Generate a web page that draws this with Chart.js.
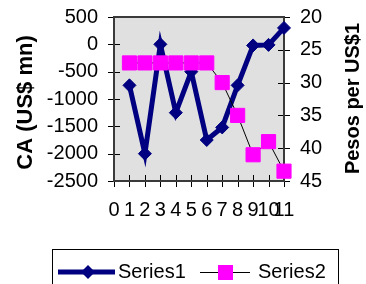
<!DOCTYPE html>
<html><head><meta charset="utf-8">
<script src="https://cdn.jsdelivr.net/npm/chart.js@4/dist/chart.umd.min.js"></script>
<style>html,body{margin:0;padding:0;background:#fff;overflow:hidden}canvas{display:block}</style>
</head><body>
<canvas id="c" width="366" height="284"></canvas>
<script>
const categories = [1, 2, 3, 4, 5, 6, 7, 8, 9, 10, 11];
const series1 = [-750, -2000, 0, -1250, -500, -1750, -1520, -750, -20, -10, 300];
const series2 = [27, 27, 27, 27, 27, 27, 30, 35, 41, 39, 43.5];
const xTickLabels = ['0','1','2','3','4','5','6','7','8','9','10','11'];
const leftTicks = [-2500, -2000, -1500, -1000, -500, 0, 500];
const rightTicks = [20, 25, 30, 35, 40, 45];
const seriesNames = ['Series1', 'Series2'];
const leftTitle = 'CA (US$ mn)';
const rightTitle = 'Pesos per US$1';

const FONT = '"Liberation Sans", Arial, Helvetica, sans-serif';
const NAVY = '#000080';
const MAG = '#FF00FF';

const framePlugin = {
  id: 'frame',
  beforeDatasetsDraw(chart) {
    const {ctx, chartArea: a} = chart;
    ctx.save();
    ctx.fillStyle = '#E0E0E0';
    ctx.fillRect(a.left, a.top, a.right - a.left, a.bottom - a.top);
    ctx.strokeStyle = '#000';
    ctx.lineWidth = 1;
    ctx.beginPath();
    const xs = chart.scales.x;
    xTickLabels.forEach((l, i) => {
      const px = Math.round(xs.getPixelForValue(i)) + 0.5;
      ctx.moveTo(px, a.bottom - 6); ctx.lineTo(px, a.bottom + 6);
    });
    leftTicks.forEach(v => {
      const py = Math.round(chart.scales.y.getPixelForValue(v)) + 0.5;
      ctx.moveTo(a.left - 6, py); ctx.lineTo(a.left + 6, py);
    });
    rightTicks.forEach(v => {
      const py = Math.round(chart.scales.y2.getPixelForValue(v)) + 0.5;
      ctx.moveTo(a.right - 6, py); ctx.lineTo(a.right + 6, py);
    });
    ctx.stroke();
    ctx.strokeStyle = '#3a3a3a';
    ctx.lineWidth = 2;
    ctx.strokeRect(a.left, a.top, a.right - a.left, a.bottom - a.top);
    ctx.restore();
  },
  afterDraw(chart) {
    const ctx = chart.ctx;
    ctx.save();
    ctx.fillStyle = '#000';
    ctx.font = 'bold 22px ' + FONT;
    ctx.textAlign = 'center';
    ctx.textBaseline = 'alphabetic';
    ctx.translate(31.5, 102.5);
    ctx.rotate(-Math.PI / 2);
    ctx.fillText(leftTitle, 0, 0);
    ctx.restore();
    ctx.save();
    ctx.fillStyle = '#000';
    ctx.font = 'bold 20px ' + FONT;
    ctx.textAlign = 'center';
    ctx.textBaseline = 'alphabetic';
    ctx.translate(359, 98.5);
    ctx.rotate(-Math.PI / 2);
    ctx.fillText(rightTitle, 0, 0);
    ctx.restore();

    // legend
    ctx.save();
    ctx.strokeStyle = '#000';
    ctx.lineWidth = 1;
    ctx.strokeRect(52.5, 249.5, 286, 45);
    const ly = 272;
    ctx.strokeStyle = NAVY;
    ctx.lineWidth = 5;
    ctx.beginPath(); ctx.moveTo(58, ly); ctx.lineTo(115, ly); ctx.stroke();
    ctx.fillStyle = NAVY;
    ctx.beginPath();
    ctx.moveTo(88 - 7, ly); ctx.lineTo(88, ly - 7); ctx.lineTo(88 + 7, ly); ctx.lineTo(88, ly + 7);
    ctx.closePath(); ctx.fill();
    ctx.strokeStyle = '#000';
    ctx.lineWidth = 1;
    ctx.beginPath(); ctx.moveTo(200, ly + 0.5); ctx.lineTo(250, ly + 0.5); ctx.stroke();
    ctx.fillStyle = MAG;
    ctx.fillRect(218, ly - 7, 15, 15);
    ctx.fillStyle = '#000';
    ctx.font = '20px ' + FONT;
    ctx.textAlign = 'left';
    ctx.textBaseline = 'alphabetic';
    ctx.fillText(seriesNames[0], 118, 278);
    ctx.fillText(seriesNames[1], 258, 278);
    ctx.restore();
  }
};

const tickFont = {family: FONT, size: 20};
function zeroPad(s) { s.paddingTop = 0; s.paddingBottom = 0; s.paddingLeft = 0; s.paddingRight = 0; }

new Chart(document.getElementById('c'), {
  type: 'line',
  data: {
    datasets: [
      {
        label: seriesNames[0],
        data: series1.map((v, i) => ({x: categories[i], y: v})),
        yAxisID: 'y', xAxisID: 'x',
        borderColor: NAVY, backgroundColor: NAVY,
        borderWidth: 5,
        pointStyle: 'rectRot', pointRadius: 6.5, pointBorderWidth: 1,
        pointBorderColor: NAVY, pointBackgroundColor: NAVY,
        tension: 0, clip: false, order: 1
      },
      {
        label: seriesNames[1],
        data: series2.map((v, i) => ({x: categories[i], y: v})),
        yAxisID: 'y2', xAxisID: 'x',
        borderColor: '#000', backgroundColor: MAG,
        borderWidth: 1,
        pointStyle: 'rect', pointRadius: 10, pointBorderWidth: 1,
        pointBorderColor: MAG, pointBackgroundColor: MAG,
        tension: 0, clip: false, order: 0
      }
    ]
  },
  options: {
    responsive: false,
    animation: false,
    devicePixelRatio: 1,
    layout: {padding: {top: 17, left: 0, right: 0, bottom: 0}},
    plugins: {legend: {display: false}, tooltip: {enabled: false}},
    scales: {
      x: {
        type: 'linear', position: 'bottom', min: 0, max: 11,
        afterFit(s) { s.height = 103; zeroPad(s); },
        afterBuildTicks(s) { s.ticks = xTickLabels.map((l, i) => ({value: i})); },
        ticks: {autoSkip: false, maxRotation: 0, minRotation: 0, padding: 17, color: '#000', font: tickFont,
          callback: (v) => xTickLabels[Math.round(v)]},
        grid: {display: false, drawTicks: false},
        border: {display: false}
      },
      y: {
        type: 'linear', position: 'left', min: -2500, max: 500,
        afterFit(s) { s.width = 114; zeroPad(s); },
        afterBuildTicks(s) { s.ticks = leftTicks.map(v => ({value: v})); },
        ticks: {autoSkip: false, padding: 16, color: '#000', font: tickFont, callback: v => String(v)},
        grid: {display: false, drawTicks: false},
        border: {display: false}
      },
      y2: {
        type: 'linear', position: 'right', min: 20, max: 45, reverse: true,
        afterFit(s) { s.width = 82; zeroPad(s); },
        afterBuildTicks(s) { s.ticks = rightTicks.map(v => ({value: v})); },
        ticks: {autoSkip: false, padding: 16, color: '#000', font: tickFont, callback: v => String(v)},
        grid: {display: false, drawTicks: false},
        border: {display: false}
      }
    }
  },
  plugins: [framePlugin]
});
</script>
</body></html>
